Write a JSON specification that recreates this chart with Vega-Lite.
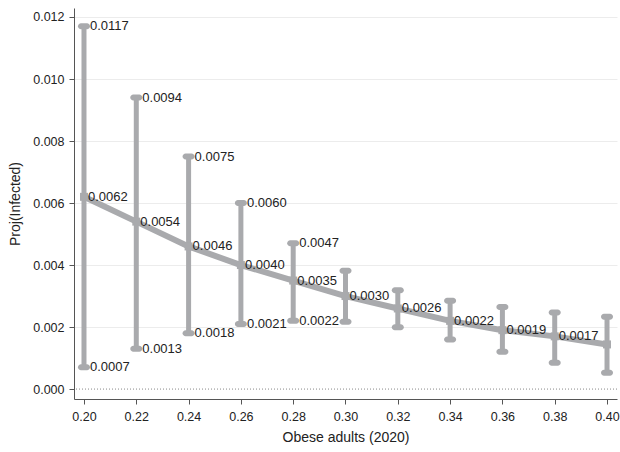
{
  "$schema": "https://vega.github.io/schema/vega-lite/v6.json",
  "autosize": "none",
  "width": 543,
  "height": 391,
  "padding": {"left": 74, "top": 8, "right": 3, "bottom": 53},
  "background": "white",
  "config": {
    "view": {"stroke": null},
    "font": "Liberation Sans",
    "axis": {
      "labelFont": "Liberation Sans",
      "titleFont": "Liberation Sans",
      "labelFontSize": 12.5,
      "titleFontSize": 14,
      "titleFontWeight": "normal",
      "labelColor": "#222",
      "titleColor": "#222",
      "domainColor": "#555",
      "tickColor": "#555",
      "tickSize": 5,
      "gridColor": "#ececec"
    }
  },
  "data": {
    "values": [
      {"x": 0.20, "est": 0.0062, "lo": 0.0007, "hi": 0.0117},
      {"x": 0.22, "est": 0.0054, "lo": 0.0013, "hi": 0.0094},
      {"x": 0.24, "est": 0.0046, "lo": 0.0018, "hi": 0.0075},
      {"x": 0.26, "est": 0.0040, "lo": 0.0021, "hi": 0.0060},
      {"x": 0.28, "est": 0.0035, "lo": 0.0022, "hi": 0.0047},
      {"x": 0.30, "est": 0.0030, "lo": 0.00217, "hi": 0.00382},
      {"x": 0.32, "est": 0.0026, "lo": 0.00199, "hi": 0.00319},
      {"x": 0.34, "est": 0.0022, "lo": 0.0016, "hi": 0.00285},
      {"x": 0.36, "est": 0.0019, "lo": 0.0012, "hi": 0.00265},
      {"x": 0.38, "est": 0.0017, "lo": 0.00085, "hi": 0.00247},
      {"x": 0.40, "est": 0.00144, "lo": 0.00053, "hi": 0.00233}
    ]
  },
  "encoding": {
    "x": {
      "field": "x", "type": "quantitative",
      "scale": {"domain": [0.19618, 0.40382], "nice": false, "zero": false},
      "axis": {
        "title": "Obese adults (2020)",
        "values": [0.2, 0.22, 0.24, 0.26, 0.28, 0.3, 0.32, 0.34, 0.36, 0.38, 0.4],
        "format": ".2f",
        "grid": false,
        "labelPadding": 6,
        "titlePadding": 8
      }
    }
  },
  "layer": [
    {
      "data": {"values": [{"z": 0}]},
      "mark": {"type": "rule", "color": "#888", "strokeWidth": 1, "strokeDash": [1, 2]},
      "encoding": {"y": {"field": "z", "type": "quantitative"}, "x": null}
    },
    {
      "mark": {"type": "rule", "color": "#a9aaad", "strokeWidth": 5},
      "encoding": {
        "y": {
          "field": "lo", "type": "quantitative",
          "scale": {"domain": [-0.00032, 0.01229], "nice": false, "zero": false},
          "axis": {
            "title": "Proj(Infected)",
            "values": [0, 0.002, 0.004, 0.006, 0.008, 0.01, 0.012],
            "format": ".3f",
            "grid": true,
            "gridColor": {"condition": {"test": "datum.value === 0", "value": "transparent"}, "value": "#ececec"},
            "labelPadding": 5,
            "titlePadding": 10
          }
        },
        "y2": {"field": "hi"}
      }
    },
    {
      "mark": {"type": "tick", "orient": "horizontal", "color": "#a9aaad", "opacity": 1, "size": 12, "thickness": 6, "cornerRadius": 3},
      "encoding": {"y": {"field": "lo", "type": "quantitative"}}
    },
    {
      "mark": {"type": "tick", "orient": "horizontal", "color": "#a9aaad", "opacity": 1, "size": 12, "thickness": 6, "cornerRadius": 3},
      "encoding": {"y": {"field": "hi", "type": "quantitative"}}
    },
    {
      "mark": {"type": "line", "color": "#a9aaad", "strokeWidth": 6},
      "encoding": {"y": {"field": "est", "type": "quantitative"}}
    },
    {
      "mark": {"type": "square", "color": "#a9aaad", "opacity": 1, "size": 64},
      "encoding": {"y": {"field": "est", "type": "quantitative"}}
    },
    {
      "transform": [{"filter": "datum.x < 0.39"}],
      "mark": {"type": "text", "align": "left", "baseline": "middle", "dx": 4, "fontSize": 13, "color": "#222", "font": "Liberation Sans"},
      "encoding": {"y": {"field": "est", "type": "quantitative"}, "text": {"field": "est", "type": "quantitative", "format": ".4f"}}
    },
    {
      "transform": [{"filter": "datum.x < 0.29"}],
      "mark": {"type": "text", "align": "left", "baseline": "middle", "dx": 6, "fontSize": 13, "color": "#222", "font": "Liberation Sans"},
      "encoding": {"y": {"field": "lo", "type": "quantitative"}, "text": {"field": "lo", "type": "quantitative", "format": ".4f"}}
    },
    {
      "transform": [{"filter": "datum.x < 0.29"}],
      "mark": {"type": "text", "align": "left", "baseline": "middle", "dx": 6, "fontSize": 13, "color": "#222", "font": "Liberation Sans"},
      "encoding": {"y": {"field": "hi", "type": "quantitative"}, "text": {"field": "hi", "type": "quantitative", "format": ".4f"}}
    }
  ]
}
